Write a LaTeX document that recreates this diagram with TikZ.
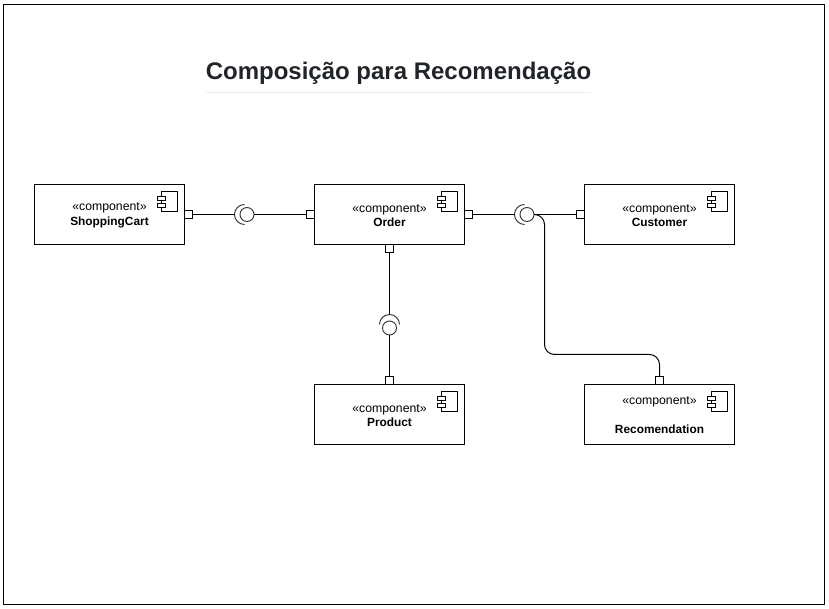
\documentclass[tikz,border=0pt]{standalone}
\usepackage{fontspec}
\setmainfont{Liberation Sans}
\usetikzlibrary{positioning}
\definecolor{titlegrey}{HTML}{212529}
\definecolor{rulegrey}{HTML}{EEEEEE}
\definecolor{ballgrey}{gray}{0.2}
% the small component icon in the top right corner of a box
\newcommand{\compicon}[1]{
\draw [icon] ([shift={(-23,7)}]#1.north east) rectangle ([shift={(-7,27)}]#1.north east);
\draw [icon,fill=white] ([shift={(-27,12)}]#1.north east) rectangle ([shift={(-19,16)}]#1.north east);
\draw [icon,fill=white] ([shift={(-27,19)}]#1.north east) rectangle ([shift={(-19,23)}]#1.north east);
}
\newcommand{\stereo}{\rule{0pt}{7.4pt}{\fontsize{9.2}{10.875}\selectfont «component»}}
\newcommand{\compname}[1]{{\fontsize{8.9}{10.875}\bfseries #1}}
\begin{document}
\begin{tikzpicture}[x=0.75pt,y=-0.75pt]
\tikzstyle{comp}=[draw=black,line width=0.75pt,minimum width=112.5pt,minimum height=45pt,inner sep=0pt,outer sep=0pt,align=center,font=\fontsize{9}{10.875}\selectfont]
\tikzstyle{port}=[draw=black,line width=0.75pt,fill=white,minimum size=6pt,inner sep=0pt,outer sep=0pt]
\tikzstyle{ball}=[draw=ballgrey,line width=0.7pt,circle,minimum size=10.5pt,inner sep=0pt,outer sep=0pt]
\tikzstyle{socket}=[draw=ballgrey,line width=0.7pt]
\tikzstyle{wire}=[draw=black,line width=0.75pt]
\tikzstyle{icon}=[draw=black,line width=0.75pt]
\useasboundingbox (0,0) rectangle (829,609);
\draw [line width=0.75pt] (3.5,4.5) rectangle (824.5,604.5);

\node [font=\fontsize{18}{22}\bfseries,text=titlegrey] at (398.5,73) (title) {Composição para Recomendação};
\draw [rulegrey,line width=0.75pt] (206,92.5) -- (591,92.5);

\node [comp] at (109.5,214.5) (cart) {\stereo\\\compname{ShoppingCart}};
\node [comp,right=97.5pt of cart] (order) {\stereo\\\compname{Order}};
\node [comp,right=90pt of order] (customer) {\stereo\\\compname{Customer}};
\node [comp,below=105pt of order] (product) {\stereo\\\compname{Product}};
\node [comp,below=105pt of customer] (recom) {\stereo\\[10.875pt]\compname{Recomendation}};
\compicon{cart}
\compicon{order}
\compicon{customer}
\compicon{product}
\compicon{recom}

\node [port,right=0pt of cart] (pcart) {};
\node [port,left=0pt of order] (porderl) {};
\node [port,right=0pt of order] (porderr) {};
\node [port,below=0pt of order] (porderd) {};
\node [port,left=0pt of customer] (pcustomer) {};
\node [port,above=0pt of product] (pproduct) {};
\node [port,above=0pt of recom] (precom) {};

\node [ball] at (247,214.5) (ball1) {};
\node [ball] at (527,214.5) (ball2) {};
\node [ball] at (389.5,328) (ball3) {};
\coordinate (sock1) at (234.5,214.5);
\coordinate (sock2) at (514.5,214.5);
\coordinate (sock3) at (389.5,314.5);
\coordinate (bend1) at (544.5,214.5);
\coordinate (bend2) at (544.5,354.5);
\coordinate (bend3) at (659.5,354.5);

\draw [socket] ([shift={(10,-10)}]sock1) arc[start angle=90,end angle=270,radius=7.5pt];
\draw [socket] ([shift={(10,-10)}]sock2) arc[start angle=90,end angle=270,radius=7.5pt];
\draw [socket] ([shift={(-10,10)}]sock3) arc[start angle=180,end angle=0,radius=7.5pt];

\draw [wire] (pcart) -- (sock1);
\draw [wire] (ball1) -- (porderl);
\draw [wire] (porderr) -- (sock2);
\draw [wire] (ball2) -- (pcustomer);
\draw [wire] (porderd) -- (sock3);
\draw [wire] (ball3) -- (pproduct);
\draw [wire,rounded corners=7.5pt] (ball2.east) -- (bend1) -- (bend2) -- (bend3) -- (precom);
\end{tikzpicture}
\end{document}
